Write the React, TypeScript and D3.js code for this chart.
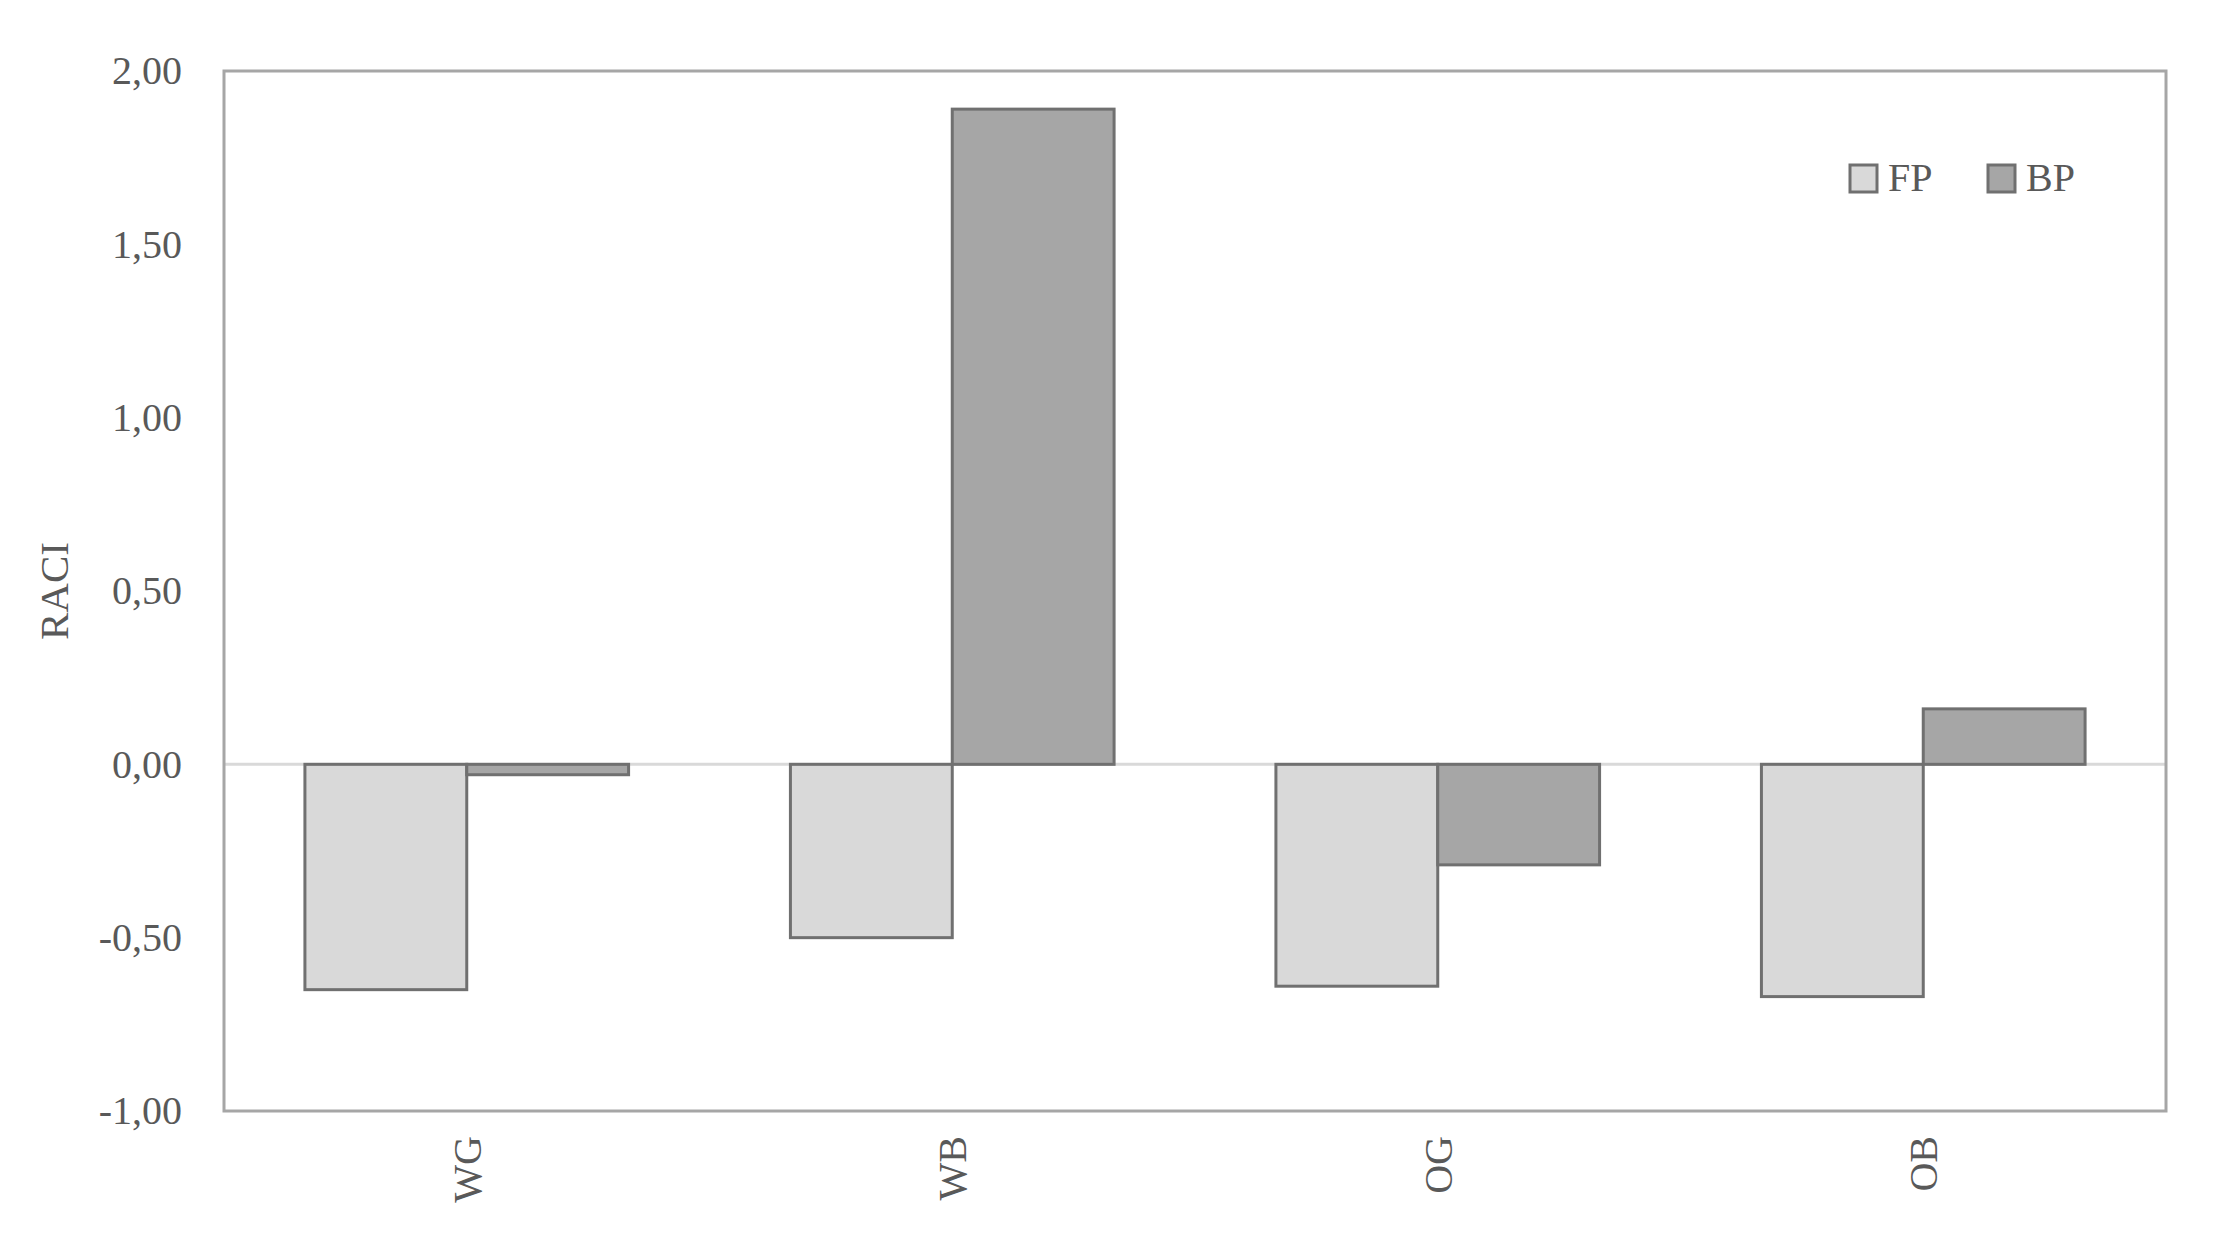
import React, { useEffect, useRef } from 'react';
import * as d3 from 'd3';

const categories = ['WG', 'WB', 'OG', 'OB'];
const seriesNames = ['FP', 'BP'];
const fpValues = [-0.65, -0.5, -0.64, -0.67];
const bpValues = [-0.03, 1.89, -0.29, 0.16];
const yTicks = [-1, -0.5, 0, 0.5, 1, 1.5, 2];

const colors: Record<string, string> = { FP: '#d9d9d9', BP: '#a6a6a6' };

const App = () => {
  const svgRef = useRef<SVGSVGElement>(null);
  const width = 2227;
  const height = 1243;

  useEffect(() => {
    document.body.style.margin = '0';
    const svg = d3.select(svgRef.current);
    svg.selectAll('*').remove();

    const margin = { top: 71, right: 61, bottom: 132, left: 224 };
    const innerWidth = width - margin.left - margin.right;
    const innerHeight = height - margin.top - margin.bottom;
    const font = '"Liberation Serif", "Times New Roman", serif';
    const textColor = '#595959';

    const g = svg.append('g')
      .attr('transform', `translate(${margin.left},${margin.top})`);

    const xScale = d3.scaleBand()
      .domain(categories)
      .range([0, innerWidth])
      .paddingInner(1 / 3)
      .paddingOuter(1 / 6);

    const subX = d3.scaleBand()
      .domain(seriesNames)
      .range([0, xScale.bandwidth()])
      .padding(0);

    const yScale = d3.scaleLinear()
      .domain([-1, 2])
      .range([innerHeight, 0]);

    // zero line
    g.append('line')
      .attr('x1', 0)
      .attr('x2', innerWidth)
      .attr('y1', yScale(0))
      .attr('y2', yScale(0))
      .attr('stroke', '#d9d9d9')
      .attr('stroke-width', 3);

    const rows = categories.map((c, i) => ({ category: c, FP: fpValues[i], BP: bpValues[i] }));

    seriesNames.forEach(s => {
      g.selectAll(`.bar-${s}`)
        .data(rows)
        .enter().append('rect')
        .attr('class', `bar-${s}`)
        .attr('x', d => (xScale(d.category) as number) + (subX(s) as number))
        .attr('y', d => yScale(Math.max(0, (d as any)[s])))
        .attr('width', subX.bandwidth())
        .attr('height', d => Math.abs(yScale((d as any)[s]) - yScale(0)))
        .attr('fill', colors[s])
        .attr('stroke', '#707070')
        .attr('stroke-width', 3);
    });

    // plot border
    g.append('rect')
      .attr('x', 0)
      .attr('y', 0)
      .attr('width', innerWidth)
      .attr('height', innerHeight)
      .attr('fill', 'none')
      .attr('stroke', '#a6a6a6')
      .attr('stroke-width', 3);

    // y axis labels
    const yAxis = d3.axisLeft(yScale)
      .tickValues(yTicks)
      .tickSize(0)
      .tickPadding(42)
      .tickFormat(d => d3.format('.2f')(d as number).replace('.', ',').replace('−', '-'));
    const yG = g.append('g').call(yAxis);
    yG.select('.domain').remove();
    yG.selectAll('text')
      .style('font-family', font)
      .style('font-size', '40px')
      .style('fill', textColor);

    // x axis labels
    const xAxis = d3.axisBottom(xScale).tickSize(0);
    const xG = g.append('g')
      .attr('transform', `translate(0,${innerHeight})`)
      .call(xAxis);
    xG.select('.domain').remove();
    xG.selectAll('text')
      .style('font-family', font)
      .style('font-size', '40px')
      .style('fill', textColor)
      .style('text-anchor', 'end')
      .attr('transform', 'rotate(-90)')
      .attr('x', -25)
      .attr('y', 0)
      .attr('dy', '0.35em');

    // y axis title
    g.append('text')
      .attr('transform', 'rotate(-90)')
      .attr('x', -innerHeight / 2)
      .attr('y', -margin.left + 68)
      .style('text-anchor', 'middle')
      .style('font-family', font)
      .style('font-size', '41px')
      .style('fill', textColor)
      .text('RACI');

    // legend
    const legendItems = [
      { name: 'FP', x: 1850 },
      { name: 'BP', x: 1988 },
    ];
    legendItems.forEach(item => {
      const lg = svg.append('g').attr('transform', `translate(${item.x},165)`);
      lg.append('rect')
        .attr('width', 27)
        .attr('height', 27)
        .attr('fill', colors[item.name])
        .attr('stroke', '#707070')
        .attr('stroke-width', 3);
      lg.append('text')
        .attr('x', 38)
        .attr('y', 26)
        .style('font-family', font)
        .style('font-size', '40px')
        .style('fill', textColor)
        .text(item.name);
    });
  }, []);

  return <svg ref={svgRef} width={width} height={height} style={{ display: 'block', background: '#fff' }}></svg>;
};

export default App;
